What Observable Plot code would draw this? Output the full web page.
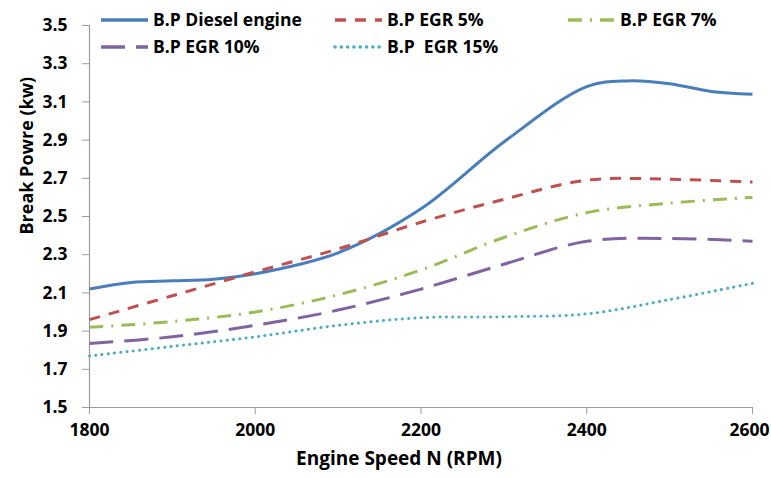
<!DOCTYPE html>
<html>
<head>
<meta charset="utf-8">
<script src="https://cdn.jsdelivr.net/npm/d3@7"></script>
<script src="https://cdn.jsdelivr.net/npm/@observablehq/plot@0.6"></script>
<style>
  html, body { margin: 0; padding: 0; background: #fff; }
  #wrap { position: relative; width: 771px; height: 478px; font-family: "Open Sans", sans-serif; }
  #legend { position: absolute; left: 0; top: 0; }
</style>
</head>
<body>
<div id="wrap"><div id="chart"></div><svg id="legend" width="771" height="60"></svg></div>
<script>
// ---- data ----
const rpm = [1800, 1900, 2000, 2100, 2200, 2300, 2400, 2500, 2600];
const rpmDiesel = [1800, 1850, 1900, 1950, 2000, 2100, 2200, 2300, 2400, 2450, 2500, 2550, 2600];
const bpDiesel = [2.12, 2.155, 2.163, 2.172, 2.20, 2.31, 2.54, 2.89, 3.18, 3.21, 3.195, 3.155, 3.14];
const bpEgr5  = [1.96, 2.085, 2.21, 2.33, 2.47, 2.59, 2.69, 2.695, 2.68];
const bpEgr7  = [1.92, 1.95, 2.00, 2.09, 2.22, 2.39, 2.52, 2.57, 2.60];
const bpEgr10 = [1.835, 1.87, 1.93, 2.01, 2.12, 2.25, 2.37, 2.385, 2.37];
const bpEgr15 = [1.77, 1.82, 1.87, 1.93, 1.97, 1.975, 1.99, 2.065, 2.15];

const seriesNames = ["B.P Diesel engine", "B.P EGR 5%", "B.P EGR 7%", "B.P EGR 10%", "B.P  EGR 15%"];
const seriesColors = ["#4a7ebb", "#c0504d", "#9bbb59", "#8064a2", "#4bacc6"];
const seriesDash = [null, "11,9", "14,8,2,8", "24,11", "0.1,6.2"];

const xTicks = [1800, 2000, 2200, 2400, 2600];
const yTicks = [1.5, 1.7, 1.9, 2.1, 2.3, 2.5, 2.7, 2.9, 3.1, 3.3, 3.5];
const xTitle = "Engine Speed N (RPM)";
const yTitle = "Break Powre (kw)";

const FONT = "'Open Sans', Lato, sans-serif";

// build tables
const tables = [
  rpmDiesel.map((x, i) => ({x, y: bpDiesel[i]})),
  rpm.map((x, i) => ({x, y: bpEgr5[i]})),
  rpm.map((x, i) => ({x, y: bpEgr7[i]})),
  rpm.map((x, i) => ({x, y: bpEgr10[i]})),
  rpm.map((x, i) => ({x, y: bpEgr15[i]}))
];

const lineMarks = tables.map((t, i) => Plot.line(t, {
  x: "x", y: "y", curve: "catmull-rom",
  stroke: seriesColors[i], strokeWidth: 3,
  strokeDasharray: seriesDash[i] || undefined,
  strokeLinecap: i === 4 ? "round" : "butt"
}));

const axisStyle = { label: null, stroke: "#9a9a9a", fill: "#000", fontSize: 17.5, fontWeight: "bold" };
const lastX = xTicks[xTicks.length - 1];

const chart = Plot.plot({
  width: 771, height: 478,
  marginLeft: 89, marginRight: 19, marginTop: 25, marginBottom: 71,
  style: { fontFamily: FONT, fontSize: "17px", fontWeight: "bold", color: "#000", background: "#fff" },
  x: { domain: [1800, 2600] },
  y: { domain: [1.5, 3.5] },
  marks: [
    // x tick lines
    Plot.axisX({ ...axisStyle, ticks: xTicks, tickSize: 7, tickFormat: () => "" }),
    // x tick labels (last one nudged so it stays inside the page)
    Plot.axisX({ ...axisStyle, ticks: xTicks.slice(0, -1), tickSize: 0, tickPadding: 16, tickFormat: d => String(d) }),
    Plot.axisX({ ...axisStyle, ticks: [lastX], tickSize: 0, tickPadding: 16, tickFormat: d => String(d), dx: -3 }),
    Plot.axisY({ ...axisStyle, ticks: yTicks, tickSize: 7, tickPadding: 15, tickFormat: d3.format(".1f") }),
    Plot.ruleX([1800], { stroke: "#9a9a9a", strokeWidth: 1.2 }),
    Plot.ruleY([1.5], { stroke: "#9a9a9a", strokeWidth: 1.2 }),
    ...lineMarks,
    Plot.text([xTitle], { frameAnchor: "bottom", dx: -22, dy: 57, text: d => d, fontSize: 19, fontWeight: "bold", fill: "#000" }),
    Plot.text([yTitle], { frameAnchor: "left", dx: -62, dy: 18, rotate: -90, text: d => d, fontSize: 18, fontWeight: "bold", fill: "#000" })
  ]
});
document.getElementById("chart").appendChild(chart);

// ---- legend ----
const legendPos = [[101, 20], [335, 20], [568, 20], [101, 47], [335, 47]];
const lg = d3.select("#legend");
seriesNames.forEach((name, i) => {
  const [lx, ly] = legendPos[i];
  const g = lg.append("g").attr("transform", `translate(${lx},${ly})`);
  g.append("line").attr("x1", 0).attr("x2", 47).attr("y1", 0).attr("y2", 0)
    .attr("stroke", seriesColors[i]).attr("stroke-width", 3.5)
    .attr("stroke-dasharray", seriesDash[i] || null)
    .attr("stroke-linecap", i === 4 ? "round" : "butt");
  g.append("text").attr("x", 52).attr("y", 0).attr("dy", "0.36em")
    .attr("font-family", FONT).attr("font-size", 17.5)
    .attr("font-weight", "bold").attr("fill", "#000")
    .attr("xml:space", "preserve").style("white-space", "pre")
    .text(name);
});
</script>
</body>
</html>
